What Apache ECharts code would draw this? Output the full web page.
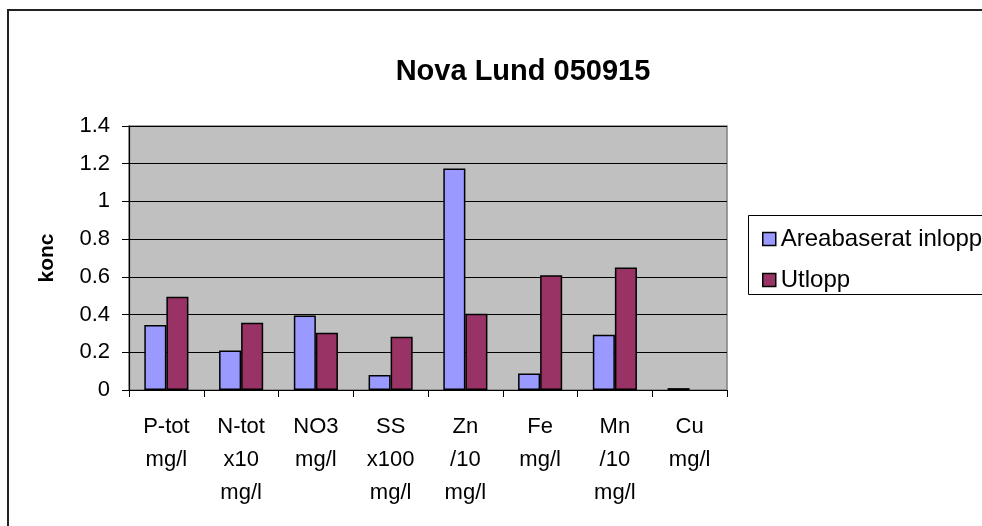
<!DOCTYPE html>
<html>
<head>
<meta charset="utf-8">
<script src="https://cdn.jsdelivr.net/npm/echarts@6/dist/echarts.min.js"></script>
<style>
html,body{margin:0;padding:0;background:#fff;}
#chart{width:982px;height:526px;}
</style>
</head>
<body>
<div id="chart"></div>
<script>
const categories = ["P-tot\nmg/l", "N-tot\nx10\nmg/l", "NO3\nmg/l", "SS\nx100\nmg/l", "Zn\n/10\nmg/l", "Fe\nmg/l", "Mn\n/10\nmg/l", "Cu\nmg/l"];
const inlopp = [0.345, 0.21, 0.395, 0.08, 1.175, 0.088, 0.293, 0.01];
const utlopp = [0.495, 0.357, 0.304, 0.283, 0.405, 0.608, 0.649, null];
const yTicks = { min: 0, max: 1.4, interval: 0.2 };
const titleText = "Nova Lund 050915";
const seriesNames = ["Areabaserat inlopp", "Utlopp"];

const FONT = "Liberation Sans, Arial, sans-serif";
const chart = echarts.init(document.getElementById('chart'));
chart.setOption({
  backgroundColor: '#fff',
  animation: false,
  textStyle: { fontFamily: FONT, color: '#000' },
  graphic: [
    { type: 'rect', z: -10, shape: { x: 8, y: 10, width: 1100, height: 700 },
      style: { fill: '#fff', stroke: '#222', lineWidth: 2 } },
    { type: 'rect', z: 0, shape: { x: 748.5, y: 215.5, width: 400, height: 79 },
      style: { fill: '#fff', stroke: '#000', lineWidth: 1 } }
  ],
  title: {
    text: titleText,
    left: 518, top: 52, textAlign: 'center',
    textStyle: { fontFamily: FONT, fontSize: 29, fontWeight: 'bold', color: '#000' }
  },
  legend: {
    orient: 'vertical', left: 757, top: 221,
    itemWidth: 13, itemHeight: 13, itemGap: 15, itemTextGap: 8,
    icon: 'rect',
    itemStyle: { borderColor: '#000', borderWidth: 1.5 },
    textStyle: { fontFamily: FONT, fontSize: 24, lineHeight: 26, color: '#000' },
    data: seriesNames
  },
  grid: {
    left: 129, top: 126, right: 255, bottom: 136,
    show: true, backgroundColor: '#C0C0C0', borderColor: '#808080', borderWidth: 1.5
  },
  xAxis: {
    type: 'category', data: categories,
    axisLine: { show: true, lineStyle: { color: '#000', width: 1.2 } },
    axisTick: { show: true, length: 7, lineStyle: { color: '#000' } },
    axisLabel: { interval: 0, margin: 20, fontFamily: FONT, fontSize: 22, lineHeight: 33, color: '#000' }
  },
  yAxis: {
    type: 'value', min: yTicks.min, max: yTicks.max, interval: yTicks.interval,
    name: 'konc', nameLocation: 'middle', nameRotate: 90, nameGap: 71,
    nameTextStyle: { fontFamily: FONT, fontSize: 21, fontWeight: 'bold', color: '#000' },
    axisLine: { show: true, lineStyle: { color: '#000', width: 1.2 } },
    axisTick: { show: true, length: 7, lineStyle: { color: '#000' } },
    axisLabel: { margin: 19, fontFamily: FONT, fontSize: 22, color: '#000' },
    splitLine: { show: true, lineStyle: { color: '#000', width: 1 } }
  },
  series: [
    { name: seriesNames[0], type: 'bar', data: inlopp, barGap: '0%', barCategoryGap: '41%',
      itemStyle: { color: '#9999FF', borderColor: '#000', borderWidth: 1.5 } },
    { name: seriesNames[1], type: 'bar', data: utlopp, barGap: '0%', barCategoryGap: '41%',
      itemStyle: { color: '#993366', borderColor: '#000', borderWidth: 1.5 } }
  ]
});
</script>
</body>
</html>
